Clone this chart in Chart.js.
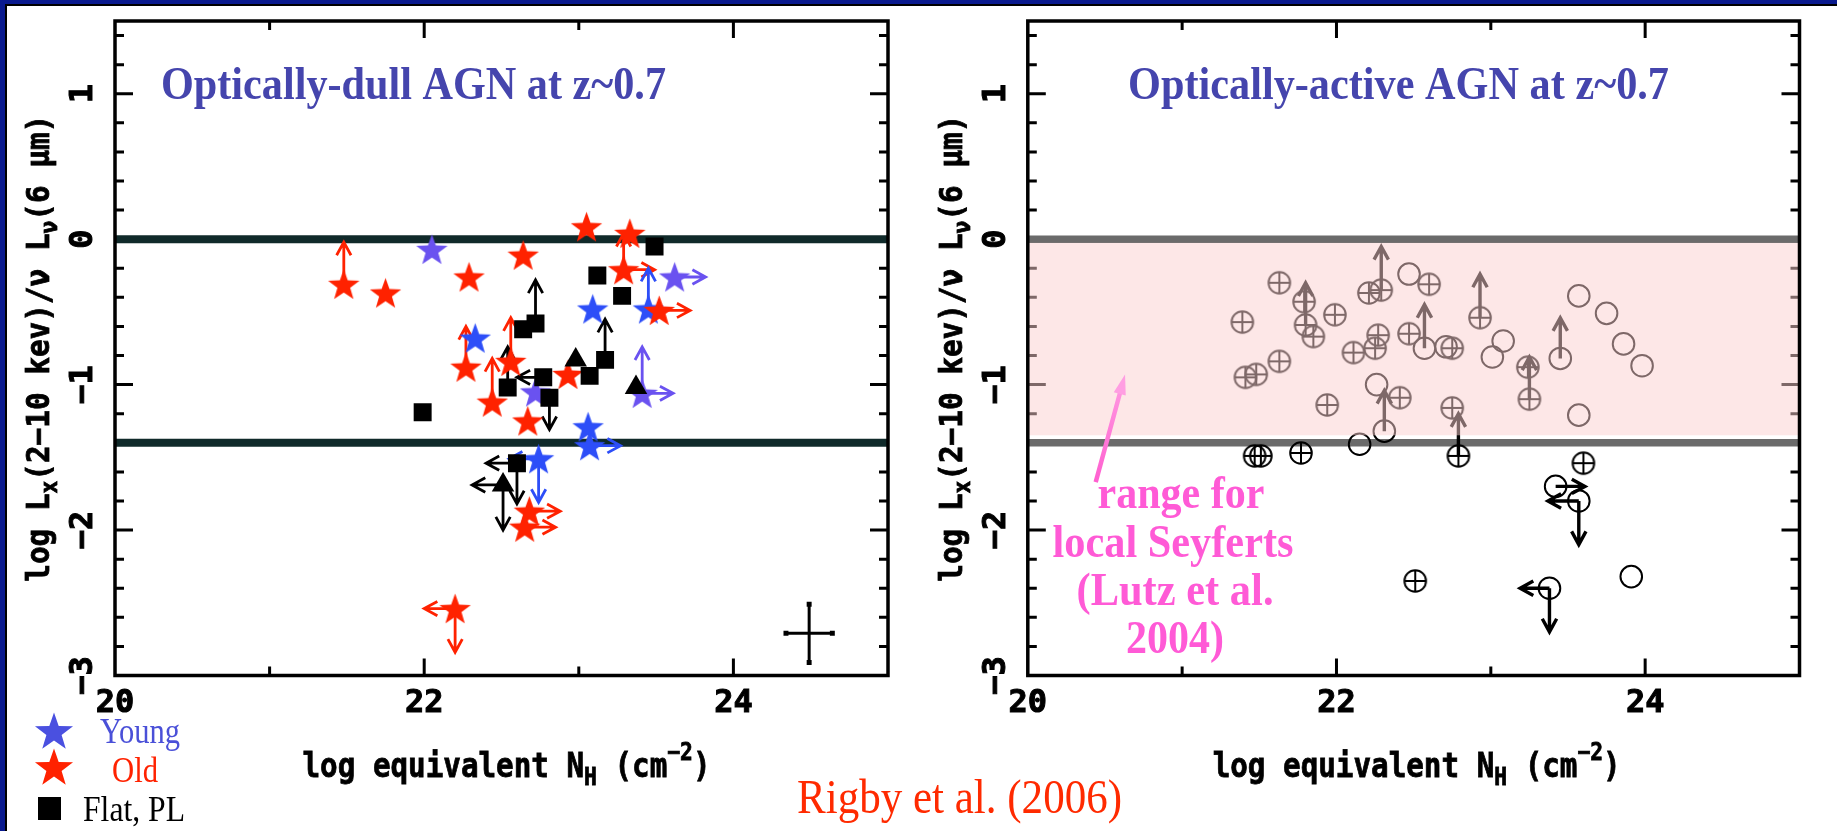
<!DOCTYPE html>
<html>
<head>
<meta charset="utf-8">
<script src="https://cdn.jsdelivr.net/npm/chart.js@4.4.1/dist/chart.umd.min.js"></script>
<style>
  html, body { margin: 0; padding: 0; background: #fff; }
  #page { position: relative; width: 1837px; height: 831px; overflow: hidden; background: #fff; }
  #page canvas { position: absolute; top: 0; }
  .edge { position: absolute; z-index: 3; }
  #credit { position: absolute; left: 797px; top: 773px; font: 48px "Liberation Serif", "Times New Roman", serif;
            line-height: 48px; color: #ff2a00; white-space: nowrap; z-index: 3; transform-origin: 0 0; }
</style>
</head>
<body>
<div id="page">
  <canvas id="dullChart" width="918" height="831" style="left:0"></canvas>
  <canvas id="activeChart" width="919" height="831" style="left:918px"></canvas>
  <div class="edge" style="left:0;top:0;width:1837px;height:4px;background:#0a1a8e"></div>
  <div class="edge" style="left:0;top:0;width:5px;height:831px;background:#0a1a8e"></div>
  <div class="edge" style="left:5px;top:4px;width:1832px;height:2px;background:#000"></div>
  <div class="edge" style="left:5px;top:4px;width:2px;height:827px;background:#000"></div>
  <div id="credit">Rigby et al. (2006)</div>
</div>
<script>
// ============================================
// DATA
// ============================================

const xRange = [20, 25];
const yRange = [-3, 1.5];
const xTickValues = [20, 22, 24];
const xTickLabels = ['20', '22', '24'];
const yTickValues = [-3, -2, -1, 0, 1];
const yTickLabels = ['\u22123', '\u22122', '\u22121', '0', '1'];

// left panel - optically-dull AGN
const oldStars = [
    [21.48, -0.31], [21.75, -0.37], [22.29, -0.26], [22.64, -0.11], [23.05, 0.085],
    [23.33, 0.04], [23.29, -0.21], [23.52, -0.49], [22.27, -0.88], [22.56, -0.84],
    [22.44, -1.12], [22.67, -1.25], [22.93, -0.93], [22.68, -1.87], [22.65, -1.98],
    [22.20, -2.54]
];
const youngStarsBlue = [
    [23.09, -0.48], [23.45, -0.48], [22.33, -0.68], [23.06, -1.29], [23.07, -1.42],
    [22.74, -1.51]
];
const youngStarsViolet = [[22.05, -0.07], [23.62, -0.26], [23.41, -1.06], [22.72, -1.05]];
const flatSquares = [
    [21.99, -1.19], [23.49, -0.05], [23.12, -0.25], [23.28, -0.39], [22.72, -0.58],
    [22.64, -0.62], [23.17, -0.83], [23.07, -0.94], [22.54, -1.02], [22.77, -0.95],
    [22.81, -1.09], [22.60, -1.54]
];
const flatTriangles = [[22.98, -0.83], [23.37, -1.02], [22.51, -1.69]];

// limits: [x, y, dx, dy]
const oldLimits = [
    [21.48, -0.31, 0, 0.29], [22.27, -0.88, 0, 0.28], [22.44, -1.12, 0, 0.30],
    [22.56, -0.84, 0, 0.30], [23.29, -0.21, 0, 0.25], [23.29, -0.21, 0.2, 0],
    [23.52, -0.49, 0.2, 0], [22.68, -1.87, 0.2, 0], [22.65, -1.98, 0.2, 0],
    [22.20, -2.54, -0.2, 0], [22.20, -2.54, 0, -0.30]
];
const youngBlueLimits = [
    [23.45, -0.48, 0, 0.28], [23.07, -1.42, 0.2, 0], [22.74, -1.51, 0, -0.30],
    [22.74, -1.51, -0.19, 0]
];
const youngVioletLimits = [[23.62, -0.26, 0.2, 0], [23.41, -1.06, 0.2, 0], [23.41, -1.06, 0, 0.32]];
const flatLimits = [
    [22.72, -0.58, 0, 0.30], [23.17, -0.83, 0, 0.28], [22.54, -1.02, 0, 0.28],
    [22.77, -0.95, -0.17, 0], [22.81, -1.09, 0, -0.22], [22.60, -1.54, -0.2, 0],
    [22.60, -1.54, 0, -0.28], [22.51, -1.69, -0.2, 0], [22.51, -1.69, 0, -0.31]
];
const errCenter = [24.49, -2.71];
const errHalf = [0.15, 0.2];
const dullLines = [0, -1.4];

// right panel - optically-active AGN
const crossedCircles = [
    [21.39, -0.57], [21.63, -0.30], [21.79, -0.43], [21.80, -0.59], [21.85, -0.67],
    [21.99, -0.52], [21.41, -0.95], [21.48, -0.93], [21.63, -0.84], [21.94, -1.14],
    [22.21, -0.37], [22.29, -0.35], [22.60, -0.31], [22.11, -0.78], [22.27, -0.66],
    [22.25, -0.75], [22.47, -0.65], [22.75, -0.75], [22.93, -0.54], [23.24, -0.88],
    [23.25, -1.10], [22.41, -1.09], [22.75, -1.16],
    [21.47, -1.49], [21.51, -1.49], [21.77, -1.47], [22.79, -1.49], [23.60, -1.54],
    [22.51, -2.35]
];
const openCircles = [
    [22.47, -0.24], [22.57, -0.75], [22.71, -0.74], [23.08, -0.70], [23.01, -0.81],
    [23.45, -0.82], [23.57, -0.39], [23.75, -0.51], [23.86, -0.72], [23.98, -0.87],
    [23.57, -1.21], [22.26, -1.00], [22.31, -1.32],
    [22.15, -1.41], [23.42, -1.70], [23.57, -1.80], [23.38, -2.40], [23.91, -2.32]
];
const activeLimits = [
    [21.80, -0.59, 0, 0.29], [22.29, -0.35, 0, 0.30], [22.57, -0.75, 0, 0.30],
    [22.93, -0.54, 0, 0.30], [23.25, -1.10, 0, 0.29], [23.45, -0.82, 0, 0.28],
    [22.31, -1.32, 0, 0.28], [22.79, -1.49, 0, 0.29], [23.42, -1.70, 0.19, 0],
    [23.57, -1.80, -0.2, 0], [23.57, -1.80, 0, -0.30], [23.38, -2.40, -0.19, 0],
    [23.38, -2.40, 0, -0.30]
];
const seyfertRange = [-1.4, 0];
const seyfertArrow = [[20.44, -1.67], [20.63, -0.93]];

// ============================================
// DRAWING HELPERS
// ============================================

const MONO = '"DejaVu Sans Mono", monospace';
const SERIF = '"Liberation Serif", "Times New Roman", serif';

function toPoints(list) {
    return list.map(p => ({ x: p[0], y: p[1] }));
}

function makeStar(color, R, r) {
    const c = document.createElement('canvas');
    const s = Math.ceil(R * 2 + 2);
    c.width = c.height = s;
    const g = c.getContext('2d');
    g.fillStyle = color;
    g.beginPath();
    for (let i = 0; i < 10; i++) {
        const a = -Math.PI / 2 + i * Math.PI / 5;
        const rr = i % 2 ? r : R;
        g.lineTo(s / 2 + rr * Math.cos(a), s / 2 + 1.5 + rr * Math.sin(a));
    }
    g.closePath();
    g.fill();
    return c;
}

function makeCrossCircle(color, r, lw) {
    const c = document.createElement('canvas');
    const s = Math.ceil(r * 2 + lw + 2);
    c.width = c.height = s;
    const g = c.getContext('2d');
    g.strokeStyle = color;
    g.lineWidth = lw;
    g.beginPath();
    g.arc(s / 2, s / 2, r, 0, Math.PI * 2);
    g.moveTo(s / 2 - r, s / 2); g.lineTo(s / 2 + r, s / 2);
    g.moveTo(s / 2, s / 2 - r); g.lineTo(s / 2, s / 2 + r);
    g.stroke();
    return c;
}

function fitText(ctx, text, cx, y, width, font, color) {
    ctx.save();
    ctx.font = font;
    const w = ctx.measureText(text).width;
    ctx.translate(cx, y);
    ctx.scale(width / w, 1);
    ctx.fillStyle = color;
    ctx.textAlign = 'center';
    ctx.textBaseline = 'alphabetic';
    ctx.fillText(text, 0, 0);
    ctx.restore();
}

// parts: [text, shift]  shift 0 = normal, -1 = subscript, 1 = superscript
function richText(ctx, parts, cx, cy, width, size, rotate) {
    ctx.save();
    const big = 'bold ' + size + 'px ' + MONO;
    const small = 'bold ' + Math.round(size * 0.72) + 'px ' + MONO;
    let total = 0;
    const widths = parts.map(p => {
        ctx.font = p[1] ? small : big;
        const w = ctx.measureText(p[0]).width;
        total += w;
        return w;
    });
    ctx.translate(cx, cy);
    if (rotate) ctx.rotate(rotate);
    ctx.scale(width / total, 1);
    ctx.fillStyle = '#000';
    ctx.strokeStyle = '#000';
    ctx.lineWidth = 0.8;
    ctx.textBaseline = 'middle';
    ctx.textAlign = 'left';
    let x = -total / 2;
    parts.forEach((p, i) => {
        ctx.font = p[1] ? small : big;
        const dy = p[1] === -1 ? size * 0.32 : p[1] === 1 ? -size * 0.45 : 0;
        ctx.fillText(p[0], x, dy);
        ctx.strokeText(p[0], x, dy);
        x += widths[i];
    });
    ctx.restore();
}

function drawLimit(ctx, xs, ys, lim, color, width) {
    const [x, y, dx, dy] = lim;
    const x0 = xs.getPixelForValue(x), y0 = ys.getPixelForValue(y);
    const x1 = xs.getPixelForValue(x + dx), y1 = ys.getPixelForValue(y + dy);
    const ang = Math.atan2(y1 - y0, x1 - x0);
    const head = 15, spread = 0.5;
    ctx.save();
    ctx.strokeStyle = color;
    ctx.lineWidth = width;
    ctx.lineCap = 'butt';
    ctx.lineJoin = 'miter';
    ctx.beginPath();
    ctx.moveTo(x0, y0);
    ctx.lineTo(x1, y1);
    ctx.moveTo(x1 - head * Math.cos(ang - spread), y1 - head * Math.sin(ang - spread));
    ctx.lineTo(x1, y1);
    ctx.lineTo(x1 - head * Math.cos(ang + spread), y1 - head * Math.sin(ang + spread));
    ctx.stroke();
    ctx.restore();
}

function drawTicks(chart) {
    const { ctx, chartArea: a, scales: { x, y } } = chart;
    ctx.save();
    ctx.strokeStyle = '#000';
    ctx.lineWidth = 3;
    ctx.beginPath();
    for (let v = xRange[0] + 1; v < xRange[1]; v++) {
        const px = x.getPixelForValue(v);
        const len = xTickValues.includes(v) ? 17 : 9;
        ctx.moveTo(px, a.bottom); ctx.lineTo(px, a.bottom - len);
        ctx.moveTo(px, a.top); ctx.lineTo(px, a.top + len);
    }
    for (let i = 1; i < Math.round((yRange[1] - yRange[0]) / 0.2); i++) {
        const v = yRange[0] + i * 0.2;
        const py = y.getPixelForValue(v);
        const len = Math.abs(v - Math.round(v)) < 1e-6 ? 18 : 9;
        ctx.moveTo(a.left, py); ctx.lineTo(a.left + len, py);
        ctx.moveTo(a.right, py); ctx.lineTo(a.right - len, py);
    }
    ctx.stroke();
    ctx.restore();
}

function drawFrameAndLabels(chart, xTitleShift) {
    const { ctx, chartArea: a, scales: { x, y } } = chart;
    ctx.save();
    ctx.strokeStyle = '#000';
    ctx.lineWidth = 3.5;
    ctx.strokeRect(a.left, a.top, a.right - a.left, a.bottom - a.top);
    ctx.fillStyle = '#000';
    ctx.strokeStyle = '#000';
    ctx.lineWidth = 1;
    ctx.font = 'bold 32px ' + MONO;
    ctx.textAlign = 'center';
    ctx.textBaseline = 'middle';
    xTickValues.forEach((v, i) => {
        const px = x.getPixelForValue(v);
        ctx.fillText(xTickLabels[i], px, a.bottom + 28);
        ctx.strokeText(xTickLabels[i], px, a.bottom + 28);
    });
    yTickValues.forEach((v, i) => {
        ctx.save();
        ctx.translate(a.left - 31, y.getPixelForValue(v));
        ctx.rotate(-Math.PI / 2);
        ctx.fillText(yTickLabels[i], 0, 0);
        ctx.strokeText(yTickLabels[i], 0, 0);
        ctx.restore();
    });
    ctx.restore();

    richText(ctx, [['log equivalent N', 0], ['H', -1], [' (cm', 0], ['\u22122', 1], [')', 0]],
        (a.left + a.right) / 2 + xTitleShift, a.bottom + 93, 408, 33, 0);
    richText(ctx, [['log L', 0], ['x', -1], ['(2\u221210 kev)/\u03bd L', 0], ['\u03bd', -1], ['(6 \u03bcm)', 0]],
        a.left - 74, (a.top + a.bottom) / 2, 467, 32, -Math.PI / 2);
}

function baseOptions(padding) {
    return {
        responsive: false,
        animation: false,
        devicePixelRatio: 1,
        events: [],
        layout: { padding: padding },
        scales: {
            x: { type: 'linear', min: xRange[0], max: xRange[1], display: false },
            y: { type: 'linear', min: yRange[0], max: yRange[1], display: false }
        },
        plugins: { legend: { display: false }, tooltip: { enabled: false } }
    };
}

// ============================================
// LEFT PANEL
// ============================================

const redStar = makeStar('#ff2200', 16.5, 6.7);
const blueStar = makeStar('#2d4ef8', 16.5, 6.7);
const violetStar = makeStar('#6a52f0', 16.5, 6.7);

const dullPlugin = {
    id: 'dullDecor',
    beforeDatasetsDraw(chart) {
        const { ctx, chartArea: a, scales: { x, y } } = chart;
        drawTicks(chart);
        ctx.save();
        ctx.strokeStyle = '#102a2a';
        ctx.lineWidth = 8;
        dullLines.forEach(v => {
            const py = y.getPixelForValue(v);
            ctx.beginPath();
            ctx.moveTo(a.left, py);
            ctx.lineTo(a.right, py);
            ctx.stroke();
        });
        ctx.restore();
        oldLimits.forEach(l => drawLimit(ctx, x, y, l, '#ff2200', 2.8));
        youngBlueLimits.forEach(l => drawLimit(ctx, x, y, l, '#2d4ef8', 2.8));
        youngVioletLimits.forEach(l => drawLimit(ctx, x, y, l, '#6a52f0', 2.8));
        flatLimits.forEach(l => drawLimit(ctx, x, y, l, '#000', 2.8));
    },
    afterDatasetsDraw(chart) {
        drawFrameAndLabels(chart, 5);
    },
    afterDraw(chart) {
        const ctx = chart.ctx;
        fitText(ctx, 'Optically-dull AGN at z~0.7', 413.5, 99, 505, 'bold 47px ' + SERIF, '#4545ad');
        // legend
        const legStarB = makeStar('#4a50e0', 20, 8);
        const legStarR = makeStar('#ff2200', 20, 8);
        ctx.drawImage(legStarB, 54 - legStarB.width / 2, 731 - legStarB.height / 2);
        ctx.drawImage(legStarR, 54 - legStarR.width / 2, 767 - legStarR.height / 2);
        ctx.fillStyle = '#000';
        ctx.fillRect(38, 797, 23, 23);
        fitText(ctx, 'Young', 140, 743, 80, '35px ' + SERIF, '#4a50d8');
        fitText(ctx, 'Old', 135, 782, 46, '35px ' + SERIF, '#ff2200');
        fitText(ctx, 'Flat, PL', 134, 821, 102, '35px ' + SERIF, '#000');
    }
};

new Chart(document.getElementById('dullChart'), {
    type: 'scatter',
    data: {
        datasets: [
            {
                label: 'Error',
                data: [
                    { x: errCenter[0] - errHalf[0], y: errCenter[1] },
                    { x: errCenter[0] + errHalf[0], y: errCenter[1] }
                ],
                showLine: true, borderColor: '#000', borderWidth: 3,
                pointStyle: 'rect', pointRadius: 3.5, pointBackgroundColor: '#000', pointBorderWidth: 0
            },
            {
                label: 'Error y',
                data: [
                    { x: errCenter[0], y: errCenter[1] - errHalf[1] },
                    { x: errCenter[0], y: errCenter[1] + errHalf[1] }
                ],
                showLine: true, borderColor: '#000', borderWidth: 3,
                pointStyle: 'rect', pointRadius: 3.5, pointBackgroundColor: '#000', pointBorderWidth: 0
            },
            { label: 'Flat, PL', data: toPoints(flatSquares), pointStyle: 'rect', pointRadius: 12.7,
              backgroundColor: '#000', borderColor: '#000', borderWidth: 0 },
            { label: 'Flat, PL (tri)', data: toPoints(flatTriangles), pointStyle: 'triangle', pointRadius: 13,
              backgroundColor: '#000', borderColor: '#000', borderWidth: 0 },
            { label: 'Old', data: toPoints(oldStars), pointStyle: redStar },
            { label: 'Young', data: toPoints(youngStarsBlue), pointStyle: blueStar },
            { label: 'Young (v)', data: toPoints(youngStarsViolet), pointStyle: violetStar }
        ]
    },
    options: baseOptions({ left: 115, right: 30, top: 21, bottom: 155.5 }),
    plugins: [dullPlugin]
});

// ============================================
// RIGHT PANEL
// ============================================

const crossCircle = makeCrossCircle('#000', 10.8, 2);

const activePlugin = {
    id: 'activeDecor',
    beforeDatasetsDraw(chart) {
        const { ctx, chartArea: a, scales: { x, y } } = chart;
        drawTicks(chart);
        ctx.save();
        ctx.strokeStyle = '#6b6b6b';
        ctx.lineWidth = 7.5;
        seyfertRange.forEach(v => {
            const py = y.getPixelForValue(v);
            ctx.beginPath();
            ctx.moveTo(a.left, py);
            ctx.lineTo(a.right, py);
            ctx.stroke();
        });
        ctx.restore();
        activeLimits.forEach(l => drawLimit(ctx, x, y, l, '#000', 3.4));
    },
    afterDatasetsDraw(chart) {
        const { ctx, chartArea: a, scales: { x, y } } = chart;
        // translucent band for the local Seyfert range
        const top = y.getPixelForValue(seyfertRange[1]) + 3.7;
        const bottom = y.getPixelForValue(seyfertRange[0]) - 7.5;
        ctx.save();
        ctx.fillStyle = 'rgba(252, 208, 208, 0.5)';
        ctx.fillRect(a.left, top, a.right - a.left, bottom - top);
        ctx.restore();
        drawFrameAndLabels(chart, 3);
    },
    afterDraw(chart) {
        const { ctx, scales: { x, y } } = chart;
        fitText(ctx, 'Optically-active AGN at z~0.7', 480.5, 99, 541, 'bold 47px ' + SERIF, '#4545ad');
        // pink arrow
        const x0 = x.getPixelForValue(seyfertArrow[0][0]), y0 = y.getPixelForValue(seyfertArrow[0][1]);
        const x1 = x.getPixelForValue(seyfertArrow[1][0]), y1 = y.getPixelForValue(seyfertArrow[1][1]);
        const ang = Math.atan2(y1 - y0, x1 - x0);
        const grad = ctx.createLinearGradient(x1, y1, x0, y0);
        grad.addColorStop(0, '#ff9ee2');
        grad.addColorStop(1, '#ff5fd0');
        ctx.save();
        ctx.strokeStyle = grad;
        ctx.fillStyle = '#ff9ee2';
        ctx.lineWidth = 4.5;
        ctx.beginPath();
        ctx.moveTo(x0, y0);
        ctx.lineTo(x1 - 12 * Math.cos(ang), y1 - 12 * Math.sin(ang));
        ctx.stroke();
        ctx.beginPath();
        ctx.moveTo(x1, y1);
        ctx.lineTo(x1 - 21 * Math.cos(ang - 0.3), y1 - 21 * Math.sin(ang - 0.3));
        ctx.lineTo(x1 - 21 * Math.cos(ang + 0.3), y1 - 21 * Math.sin(ang + 0.3));
        ctx.closePath();
        ctx.fill();
        ctx.restore();
        const pink = '#ff5ad6';
        const f = 'bold 46px ' + SERIF;
        fitText(ctx, 'range for', 263, 508, 167, f, pink);
        fitText(ctx, 'local Seyferts', 255, 557, 241, f, pink);
        fitText(ctx, '(Lutz et al.', 257, 605, 197, f, pink);
        fitText(ctx, '2004)', 257, 653, 98, f, pink);
    }
};

new Chart(document.getElementById('activeChart'), {
    type: 'scatter',
    data: {
        datasets: [
            { label: 'crossed', data: toPoints(crossedCircles), pointStyle: crossCircle },
            { label: 'open', data: toPoints(openCircles), pointStyle: 'circle', pointRadius: 10.8,
              borderColor: '#000', borderWidth: 2, backgroundColor: 'rgba(0,0,0,0)' }
        ]
    },
    options: baseOptions({ left: 109.8, right: 37.5, top: 21, bottom: 155.5 }),
    plugins: [activePlugin]
});

// squeeze the credit line to the width it has in the figure
const credit = document.getElementById('credit');
credit.style.transform = 'scaleX(' + (325 / credit.getBoundingClientRect().width) + ')';
</script>
</body>
</html>
